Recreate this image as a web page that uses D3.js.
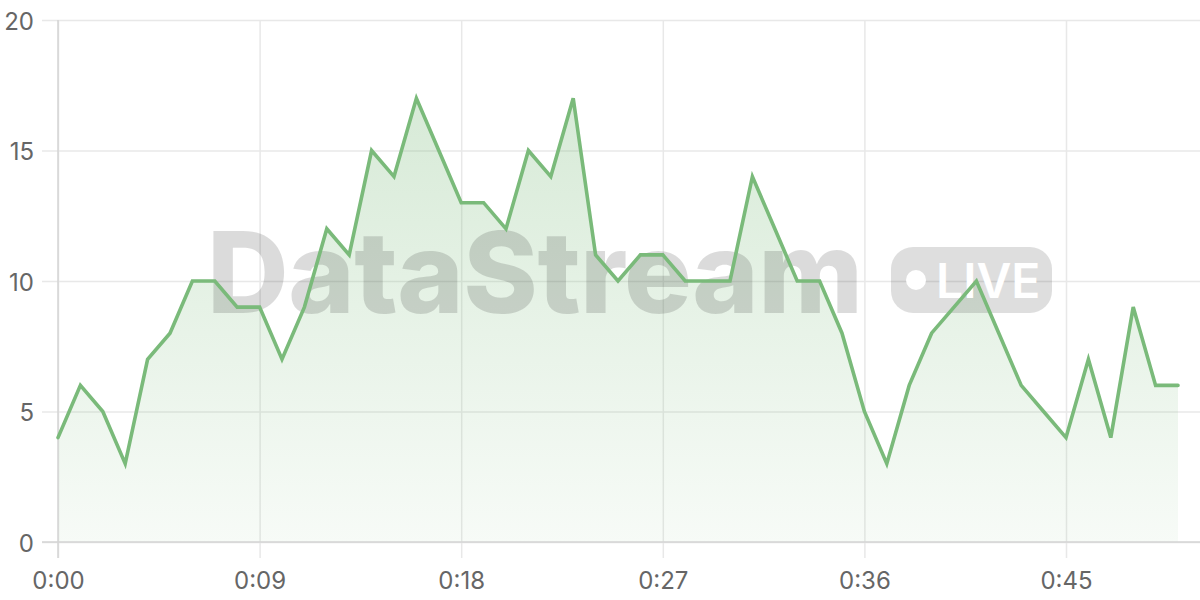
<!DOCTYPE html>
<html>
<head>
<meta charset="utf-8">
<script src="https://cdn.jsdelivr.net/npm/d3@7"></script>
<style>
  body { margin: 0; background: #fff; }
  svg { display: block; font-family: Inter, "Noto Sans", sans-serif; }
</style>
</head>
<body>
<svg id="chart" width="1200" height="600"></svg>
<script>
// seconds since start
const seconds = d3.range(0, 51);
const values = [4, 6, 5, 3, 7, 8, 10, 10, 9, 9,
                7, 9, 12, 11, 15, 14, 17, 15, 13, 13,
                12, 15, 14, 17, 11, 10, 11, 11, 10, 10,
                10, 14, 12, 10, 10, 8, 5, 3, 6, 8,
                9, 10, 8, 6, 5, 4, 7, 4, 9, 6, 6];
const xTicks = [0, 9, 18, 27, 36, 45];
const yTicks = [0, 5, 10, 15, 20];

const data = seconds.map((s, i) => ({ t: s, v: values[i] }));

const svg = d3.select("#chart");
const margin = { top: 20, right: 22, bottom: 58, left: 58 };
const width = 1200 - margin.left - margin.right;
const height = 600 - margin.top - margin.bottom;

const x = d3.scaleLinear().domain([0, 50]).range([0, width]);
const y = d3.scaleLinear().domain([0, 20]).range([height, 0]);

const fmt = s => Math.floor(s / 60) + ":" + String(s % 60).padStart(2, "0");

const defs = svg.append("defs");
const grad = defs.append("linearGradient")
    .attr("id", "fillGrad")
    .attr("x1", 0).attr("y1", 0).attr("x2", 0).attr("y2", 1);
grad.append("stop").attr("offset", "0%").attr("stop-color", "#7aba7a").attr("stop-opacity", 0.3);
grad.append("stop").attr("offset", "100%").attr("stop-color", "#7aba7a").attr("stop-opacity", 0.06);

const g = svg.append("g")
    .attr("transform", `translate(${margin.left},${margin.top})`);

// horizontal grid + y labels
const yAxis = g.append("g")
    .call(d3.axisLeft(y).tickValues(yTicks).tickSizeInner(-(width + margin.right)).tickSizeOuter(0))
    .attr("font-size", 24)
    .attr("font-family", "Inter, 'Noto Sans', sans-serif")
    .call(a => a.select(".domain").remove());
yAxis.selectAll(".tick line")
    .attr("x1", -16)
    .attr("stroke", "#e8e8e8")
    .attr("stroke-width", 1.5);
yAxis.selectAll(".tick text")
    .attr("x", -24)
    .attr("dy", "0.38em")
    .attr("fill", "#666");

// vertical grid + x labels
const xAxis = g.append("g")
    .attr("transform", `translate(0,${height})`)
    .call(d3.axisBottom(x).tickValues(xTicks).tickFormat(fmt).tickSize(0))
    .attr("font-size", 24)
    .attr("font-family", "Inter, 'Noto Sans', sans-serif")
    .call(a => a.select(".domain").remove());
xAxis.selectAll(".tick line")
    .attr("y1", 16)
    .attr("y2", -height)
    .attr("stroke", "#e8e8e8")
    .attr("stroke-width", 1.5);
xAxis.selectAll(".tick text")
    .attr("y", 47)
    .attr("dy", 0)
    .attr("fill", "#666");

// area
const area = d3.area()
    .x(d => x(d.t))
    .y0(y(0))
    .y1(d => y(d.v));
g.append("path")
    .datum(data)
    .attr("d", area)
    .attr("fill", "url(#fillGrad)");

// watermark (sits between the area fill and the line)
const wm = svg.append("g").attr("pointer-events", "none");
wm.append("text")
    .attr("x", 207)
    .attr("y", 313)
    .attr("fill", "#000")
    .attr("fill-opacity", 0.14)
    .style("font-size", "113px")
    .style("font-weight", 800)
    .style("letter-spacing", "-0.5px")
    .text("DataStream");
wm.append("rect")
    .attr("x", 891).attr("y", 247)
    .attr("width", 161).attr("height", 66)
    .attr("rx", 22)
    .attr("fill", "#000")
    .attr("fill-opacity", 0.13);
wm.append("circle")
    .attr("cx", 916).attr("cy", 280).attr("r", 10)
    .attr("fill", "#fff");
wm.append("text")
    .attr("x", 936)
    .attr("y", 298)
    .attr("fill", "#fff")
    .style("font-size", "48px")
    .style("font-weight", 600)
    .text("LIVE");

const front = svg.append("g")
    .attr("transform", `translate(${margin.left},${margin.top})`);

// axis lines
front.append("line")
    .attr("x1", -16).attr("x2", width + margin.right)
    .attr("y1", height).attr("y2", height)
    .attr("stroke", "#d4d4d4").attr("stroke-width", 1.5);
front.append("line")
    .attr("x1", 0).attr("x2", 0)
    .attr("y1", 0).attr("y2", height + 16)
    .attr("stroke", "#d4d4d4").attr("stroke-width", 1.5);

// line
const line = d3.line()
    .x(d => x(d.t))
    .y(d => y(d.v));
front.append("path")
    .datum(data)
    .attr("d", line)
    .attr("fill", "none")
    .attr("stroke", "#7aba7a")
    .attr("stroke-width", 3.6)
    .attr("stroke-linejoin", "miter")
    .attr("stroke-linecap", "round");
</script>
</body>
</html>
